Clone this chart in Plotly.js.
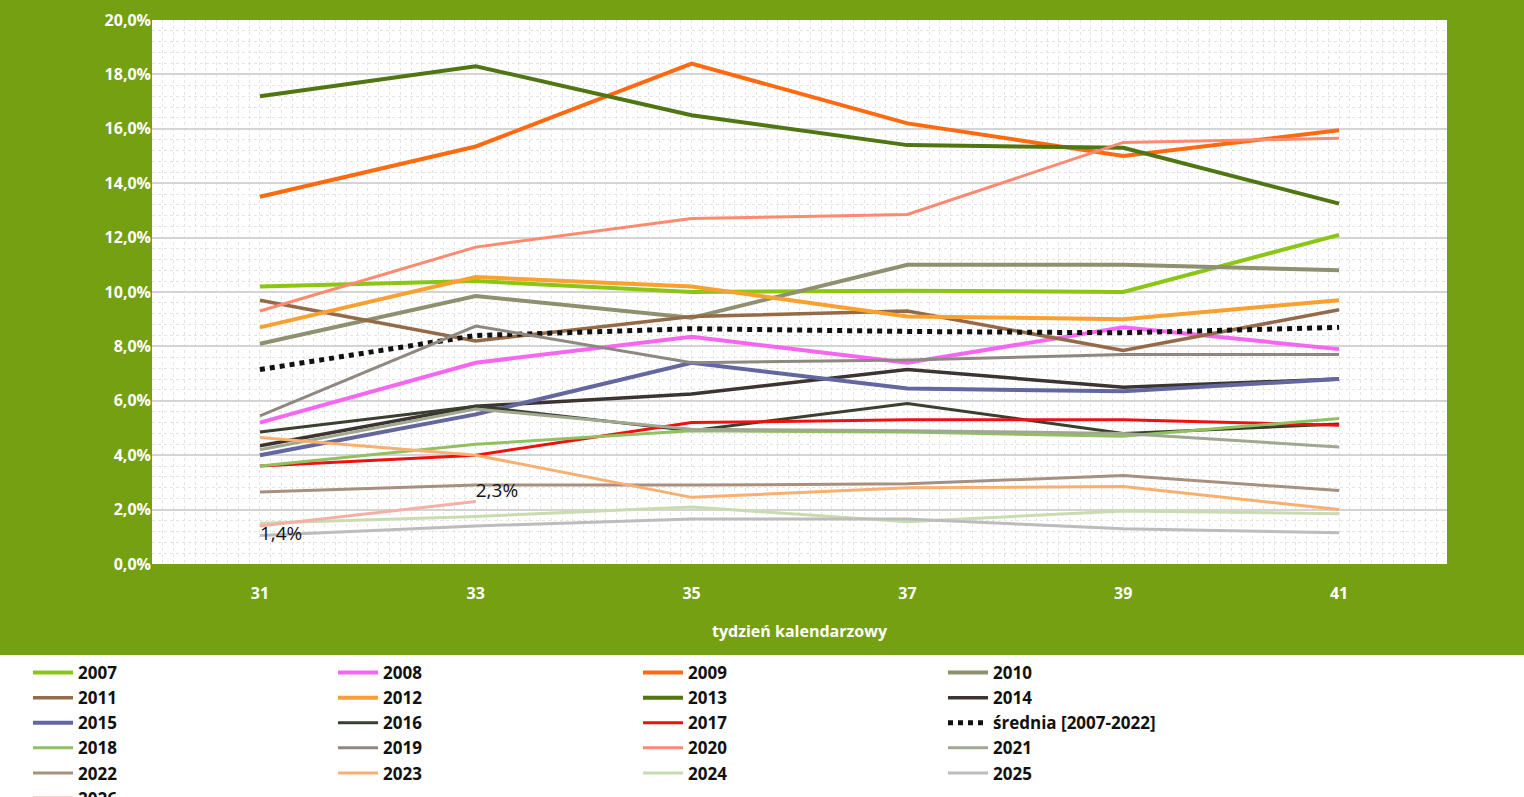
<!DOCTYPE html>
<html>
<head>
<meta charset="utf-8">
<script src="https://cdn.plot.ly/plotly-3.0.1.min.js"></script>
<style>body{margin:0;background:#fff}#chart{width:1524px;height:797px}</style>
</head>
<body>
<div id="chart"></div>
<script>
var weeks = [31, 33, 35, 37, 39, 41];

var y2007 = [10.2, 10.4, 10.0, 10.05, 10.0, 12.1];
var y2008 = [5.2, 7.4, 8.35, 7.4, 8.7, 7.9];
var y2009 = [13.5, 15.35, 18.4, 16.2, 15.0, 15.95];
var y2010 = [8.1, 9.85, 9.05, 11.0, 11.0, 10.8];
var y2011 = [9.7, 8.2, 9.1, 9.3, 7.85, 9.35];
var y2012 = [8.7, 10.55, 10.2, 9.1, 9.0, 9.7];
var y2013 = [17.2, 18.3, 16.5, 15.4, 15.3, 13.25];
var y2014 = [4.35, 5.8, 6.25, 7.15, 6.5, 6.8];
var y2015 = [4.0, 5.5, 7.4, 6.45, 6.35, 6.8];
var y2016 = [4.85, 5.8, 4.9, 5.9, 4.8, 5.15];
var y2017 = [3.6, 4.0, 5.2, 5.3, 5.3, 5.1];
var srednia = [7.15, 8.4, 8.65, 8.55, 8.5, 8.7];
var y2018 = [3.6, 4.4, 4.9, 4.85, 4.7, 5.35];
var y2019 = [5.45, 8.75, 7.4, 7.5, 7.7, 7.7];
var y2020 = [9.3, 11.65, 12.7, 12.85, 15.5, 15.65];
var y2021 = [4.2, 5.7, 4.95, 4.9, 4.8, 4.3];
var y2022 = [2.65, 2.9, 2.9, 2.95, 3.25, 2.7];
var y2023 = [4.65, 4.0, 2.45, 2.8, 2.85, 2.0];
var y2024 = [1.5, 1.75, 2.1, 1.55, 1.95, 1.85];
var y2025 = [1.05, 1.4, 1.65, 1.65, 1.3, 1.15];
var y2026 = [1.4, 2.3];
var labels2026 = ['1,4%', '2,3%'];

function line(name, y, color, width, dash) {
    return {
        x: weeks.slice(0, y.length), y: y, name: name, type: 'scatter', mode: 'lines',
        line: {color: color, width: width, dash: dash || 'solid'}
    };
}

var data = [
    line('2007', y2007, '#8cc614', 4),
    line('2008', y2008, '#f766f0', 4),
    line('2009', y2009, '#ff6a10', 4),
    line('2010', y2010, '#8e9070', 4),
    line('2011', y2011, '#946a48', 3.5),
    line('2012', y2012, '#f8a030', 4),
    line('2013', y2013, '#4f7612', 4),
    line('2014', y2014, '#3c3430', 3.5),
    line('2015', y2015, '#6466a0', 4),
    line('2016', y2016, '#3a4030', 3),
    line('2017', y2017, '#f01010', 3),
    line('średnia [2007-2022]', srednia, '#111111', 5, 'dot'),
    line('2018', y2018, '#90c060', 3),
    line('2019', y2019, '#8e8880', 3),
    line('2020', y2020, '#fb8a70', 3),
    line('2021', y2021, '#a0a890', 3),
    line('2022', y2022, '#a89080', 3),
    line('2023', y2023, '#f8b070', 3),
    line('2024', y2024, '#c8dcb0', 3),
    line('2025', y2025, '#bcbcbc', 3),
    {
        x: weeks.slice(0, y2026.length), y: y2026, name: '2026', type: 'scatter',
        mode: 'lines+text', text: labels2026, textposition: ['bottom right', 'top right'],
        textfont: {family: 'Open Sans', size: 19, color: '#111'},
        line: {color: '#f4b0a8', width: 3}
    }
];

var layout = {
    width: 1524, height: 797,
    margin: {l: 152, r: 77, t: 20, b: 233, autoexpand: false},
    paper_bgcolor: '#ffffff',
    plot_bgcolor: '#ffffff',
    font: {family: 'Open Sans', size: 16, color: '#111'},
    shapes: [{
        type: 'rect', xref: 'paper', yref: 'paper', layer: 'below',
        x0: -152 / 1295, x1: 1 + 77 / 1295, y0: -91 / 544, y1: 1 + 20 / 544,
        fillcolor: '#74a012', line: {width: 0}
    }, {
        type: 'rect', xref: 'paper', yref: 'paper', layer: 'below',
        x0: 0, x1: 1, y0: 0, y1: 1, fillcolor: '#ffffff', line: {width: 0}
    }],
    xaxis: {
        range: [30, 42], tickvals: weeks, ticktext: weeks.map(String),
        showgrid: false, zeroline: false, showline: false, ticks: '',
        ticklabelstandoff: 18,
        tickfont: {color: '#ffffff', size: 16, family: 'Open Sans', weight: 'bold'},
        title: {text: 'tydzień kalendarzowy', standoff: 22,
            font: {color: '#ffffff', size: 16, family: 'Open Sans', weight: 'bold'}},
        minor: {dtick: 0.1, showgrid: true, gridcolor: '#e4e4e4', griddash: 'dot', gridwidth: 1}
    },
    yaxis: {
        range: [0, 20], dtick: 2, tickformat: '.1f', ticksuffix: '%',
        gridcolor: '#d4d4d4', gridwidth: 1.5, zeroline: false, showline: false,
        tickfont: {color: '#ffffff', size: 16, family: 'Open Sans', weight: 'bold'},
        minor: {dtick: 0.4, showgrid: true, gridcolor: '#e4e4e4', griddash: 'dot', gridwidth: 1}
    },
    separators: ', ',
    showlegend: true,
    legend: {
        orientation: 'h', xref: 'container', yref: 'container',
        x: 28 / 1524, y: 1 - 655 / 797, xanchor: 'left', yanchor: 'top',
        entrywidth: 250, entrywidthmode: 'pixels', tracegroupgap: 0,
        font: {size: 17, family: 'Open Sans', weight: 'bold', color: '#111'},
        itemwidth: 40, traceorder: 'normal', bgcolor: 'rgba(0,0,0,0)'
    }
};

Plotly.newPlot('chart', data, layout, {displayModeBar: false});
</script>
</body>
</html>
